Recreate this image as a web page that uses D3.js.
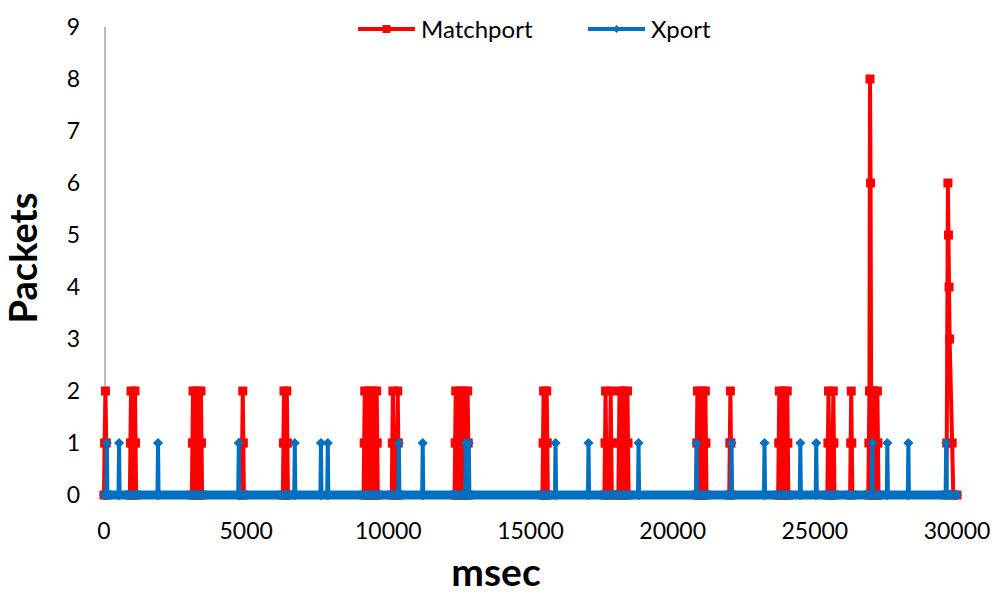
<!DOCTYPE html>
<html>
<head>
<meta charset="utf-8">
<script src="https://cdn.jsdelivr.net/npm/d3@7"></script>
<style>
  body { margin: 0; background: #fff; }
  svg { font-family: Lato, "Open Sans", sans-serif; }
</style>
</head>
<body>
<main></main>
<script>
// samples: [msec, packets]
const matchportSamples = [
  [0,0],
  [20,1],[50,2],[80,1],[100,0],
  [910,0],[930,1],[950,2],[970,1],[990,0],
  [1050,0],[1070,1],[1090,2],[1110,1],[1130,0],
  [3090,0],[3110,1],[3130,2],[3150,1],[3170,0],
  [3230,0],[3250,1],[3270,2],[3290,1],[3310,0],
  [3370,0],[3390,1],[3410,2],[3430,1],[3450,0],
  [4840,0],[4860,1],[4880,2],[4900,1],[4920,0],
  [6290,0],[6310,1],[6330,2],[6350,1],[6370,0],
  [6390,0],[6410,1],[6430,2],[6450,1],[6470,0],
  [9130,0],[9150,1],[9170,2],[9190,1],[9210,0],
  [9270,0],[9290,1],[9310,2],[9330,1],[9350,0],
  [9410,0],[9430,1],[9450,2],[9470,1],[9490,0],
  [9550,0],[9570,1],[9590,2],[9610,1],[9630,0],
  [10120,0],[10140,1],[10160,2],[10180,1],[10200,0],
  [10290,0],[10310,1],[10330,2],[10350,1],[10370,0],
  [12330,0],[12350,1],[12370,2],[12390,1],[12410,0],
  [12470,0],[12490,1],[12510,2],[12530,1],[12550,0],
  [12610,0],[12630,1],[12650,2],[12670,1],[12690,0],
  [12750,0],[12770,1],[12790,2],[12810,1],[12830,0],
  [15420,0],[15440,1],[15460,2],[15480,1],[15500,0],
  [15530,0],[15550,1],[15570,2],[15590,1],[15610,0],
  [17600,0],[17620,1],[17640,2],[17660,1],[17680,0],
  [17780,0],[17800,1],[17820,2],[17840,1],[17860,0],
  [18090,0],[18110,1],[18130,2],[18150,1],[18170,0],
  [18230,0],[18250,1],[18270,2],[18290,1],[18310,0],
  [18370,0],[18390,1],[18410,2],[18430,1],[18450,0],
  [20830,0],[20850,1],[20870,2],[20890,1],[20910,0],
  [20970,0],[20990,1],[21010,2],[21030,1],[21050,0],
  [21110,0],[21130,1],[21150,2],[21170,1],[21190,0],
  [21990,0],[22010,1],[22030,2],[22050,1],[22070,0],
  [23710,0],[23730,1],[23750,2],[23770,1],[23790,0],
  [23850,0],[23870,1],[23890,2],[23910,1],[23930,0],
  [23990,0],[24010,1],[24030,2],[24050,1],[24070,0],
  [25440,0],[25460,1],[25480,2],[25500,1],[25520,0],
  [25610,0],[25630,1],[25650,2],[25670,1],[25690,0],
  [26240,0],[26260,1],[26280,2],[26300,1],[26320,0],
  [26880,0],[26900,1],[26920,2],[26940,8],[26960,6],[26980,2],[27000,1],[27020,0],
  [27040,0],[27060,1],[27080,2],[27100,1],[27120,0],
  [27160,0],[27180,1],[27200,2],[27220,1],[27240,0],
  [29620,0],[29640,1],[29680,6],[29700,5],[29720,4],[29740,3],[29830,1],[29870,0],
  [30000,0]
];

const xportSamples = [
  [0,0],
  [80,0],[100,1],[120,0],
  [510,0],[530,1],[550,0],
  [1880,0],[1900,1],[1920,0],
  [4720,0],[4740,1],[4760,0],
  [6690,0],[6710,1],[6730,0],
  [7610,0],[7630,1],[7650,0],
  [7850,0],[7870,1],[7890,0],
  [10350,0],[10370,1],[10390,0],
  [11190,0],[11210,1],[11230,0],
  [12700,0],[12720,1],[12740,0],
  [12810,0],[12830,1],[12850,0],
  [15860,0],[15880,1],[15900,0],
  [17020,0],[17040,1],[17060,0],
  [18780,0],[18800,1],[18820,0],
  [20820,0],[20840,1],[20860,0],
  [22050,0],[22070,1],[22090,0],
  [23210,0],[23230,1],[23250,0],
  [24470,0],[24490,1],[24510,0],
  [25030,0],[25050,1],[25070,0],
  [27000,0],[27020,1],[27040,0],
  [27530,0],[27550,1],[27570,0],
  [28270,0],[28290,1],[28310,0],
  [29600,0],[29620,1],[29640,0],
  [30000,0]
];

const xTicks = [0, 5000, 10000, 15000, 20000, 25000, 30000];
const yTicks = [0, 1, 2, 3, 4, 5, 6, 7, 8, 9];
const seriesNames = ['Matchport', 'Xport'];
const seriesColors = ['#ff0000', '#0070c0'];

const width = 1000;
const height = 594;
const plot = {left: 104, right: 957, top: 27, bottom: 495};

let svg = d3.select('main')
  .append('svg')
  .attr('width', width)
  .attr('height', height);

const x = d3.scaleLinear().domain([0, 30000]).range([plot.left, plot.right]);
const y = d3.scaleLinear().domain([0, 9]).range([plot.bottom, plot.top]);

// y axis: only the grey line and labels
svg.append('line')
  .attr('x1', x(0) + 1).attr('x2', x(0) + 1)
  .attr('y1', y(9)).attr('y2', y(0))
  .attr('stroke', '#a6a6a6')
  .attr('stroke-width', 1.5);

svg.selectAll('.ylab')
  .data(yTicks)
  .enter()
  .append('text')
  .attr('class', 'ylab')
  .attr('x', 80)
  .attr('y', function (d) { return y(d); })
  .attr('dy', '0.36em')
  .attr('text-anchor', 'end')
  .attr('font-size', 23)
  .attr('fill', '#000')
  .text(function (d) { return d; });

svg.selectAll('.xlab')
  .data(xTicks)
  .enter()
  .append('text')
  .attr('class', 'xlab')
  .attr('x', function (d) { return x(d); })
  .attr('y', 539)
  .attr('text-anchor', 'middle')
  .attr('font-size', 23)
  .attr('fill', '#000')
  .text(function (d) { return d; });

// axis titles
svg.append('text')
  .attr('x', 496)
  .attr('y', 586)
  .attr('text-anchor', 'middle')
  .attr('font-size', 39)
  .attr('font-weight', 'bold')
  .text('msec');

svg.append('text')
  .attr('transform', 'translate(37,258) rotate(-90)')
  .attr('text-anchor', 'middle')
  .attr('font-size', 38)
  .attr('font-weight', 'bold')
  .text('Packets');

const line = d3.line()
  .x(function (d) { return x(d[0]); })
  .y(function (d) { return y(d[1]); });

const square = d3.symbol().type(d3.symbolSquare).size(81);
const diamond = d3.symbol().type(d3.symbolSquare).size(52);

function draw_series(samples, color, symbol, rot) {
  let g = svg.append('g');
  g.append('path')
    .datum(samples)
    .attr('d', line)
    .attr('fill', 'none')
    .attr('stroke', color)
    .attr('stroke-width', 4)
    .attr('stroke-linejoin', 'round');
  g.selectAll('path.mark')
    .data(samples)
    .enter()
    .append('path')
    .attr('class', 'mark')
    .attr('transform', function (d) {
      return 'translate(' + x(d[0]) + ',' + y(d[1]) + ') rotate(' + rot + ')';
    })
    .attr('d', symbol)
    .attr('fill', color);
  return g;
}

draw_series(matchportSamples, seriesColors[0], square, 0);
let xg = draw_series(xportSamples, seriesColors[1], diamond, 45);

// dense zero-valued Xport markers form a thick band along the base
xg.insert('line', ':first-child')
  .attr('x1', x(xportSamples[0][0]))
  .attr('x2', x(xportSamples[xportSamples.length - 1][0]))
  .attr('y1', y(0)).attr('y2', y(0))
  .attr('stroke', seriesColors[1])
  .attr('stroke-width', 9);

// legend
const legendX = [358, 588];
let lg = svg.selectAll('.legend')
  .data(seriesNames)
  .enter()
  .append('g')
  .attr('class', 'legend')
  .attr('transform', function (d, i) {
    return 'translate(' + legendX[i] + ', 29)';
  });

lg.append('line')
  .attr('x1', 0).attr('x2', 57)
  .attr('y1', 0).attr('y2', 0)
  .attr('stroke', function (d, i) { return seriesColors[i]; })
  .attr('stroke-width', 4);

lg.append('path')
  .attr('transform', function (d, i) {
    return 'translate(28.5,0) rotate(' + (i === 0 ? 0 : 45) + ')';
  })
  .attr('d', function (d, i) {
    return d3.symbol().type(d3.symbolSquare).size(i === 0 ? 64 : 32)();
  })
  .attr('fill', function (d, i) { return seriesColors[i]; });

lg.append('text')
  .attr('x', 63)
  .attr('y', 0)
  .attr('dy', '0.36em')
  .attr('font-size', 24)
  .attr('fill', '#000')
  .text(function (d) { return d; });
</script>
</body>
</html>
